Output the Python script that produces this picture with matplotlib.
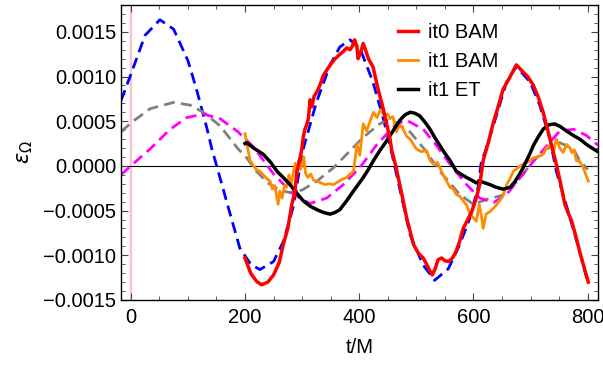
import numpy as np
import matplotlib.pyplot as plt

plt.rcParams["font.family"] = ["Liberation Sans", "DejaVu Sans"]
plt.rcParams["mathtext.fontset"] = "dejavusans"

# values in units of 1e-4
blue_t = [-17, 0, 25, 51, 75, 100, 115, 133, 142, 150, 175, 191, 210, 226, 250, 267, 284, 299,
          302, 325, 349, 366, 384, 401, 424, 442, 454, 462, 489, 512, 532, 556, 576, 594, 608,
          614, 620, 640, 658, 675, 699, 716, 734, 745, 769, 786, 801]
blue_e = [7.3, 10.2, 14.6, 16.35, 15.3, 11.8, 8.6, 4.3, 1.9, 0.1, -5.6, -9.2, -11.0, -11.6, -10.7,
          -8.5, -4.7, 0.9, 1.9, 7.1, 11.3, 13.3, 14.1, 13.2, 9.4, 5.3, 2.3, 0.0, -7.7, -11.1, -12.8,
          -11.5, -8.8, -5.8, -2.4, 0.6, 1.5, 5.6, 9.4, 11.1, 9.4, 6.8, 3.0, -0.6, -5.8, -9.6, -13.2]

gray_t = [-17, 2, 34, 75, 104, 127, 156, 188, 203, 220, 240, 260, 280, 300, 326, 355, 378, 407,
          436, 448, 460, 489, 515, 541, 576, 600, 625, 650, 680, 705, 728, 751, 775, 786, 800]
gray_e = [3.8, 4.9, 6.4, 7.1, 6.8, 6.0, 4.5, 1.9, 0.9, -0.6, -1.9, -2.7, -3.0, -2.7, -1.7,
          -0.2, 1.3, 3.2, 4.7, 5.1, 5.0, 3.8, 1.8, -0.6, -3.2, -4.3, -3.7, -3.3, -1.5, 0.6, 1.9,
          2.6, 1.9, 0.6, -0.4]

mag_t = [-17, 0, 34, 69, 98, 127, 156, 188, 215, 250, 285, 314, 343, 372, 401, 431, 465, 483,
         512, 535, 559, 588, 611, 635, 658, 687, 710, 751, 775, 798, 818]
mag_e = [-1.0, 0.0, 1.9, 4.1, 5.4, 5.8, 5.3, 3.8, 2.1, -0.9, -3.2, -4.2, -3.6, -2.1, -0.2, 2.4,
         4.7, 5.1, 4.1, 2.3, 0.2, -2.1, -3.6, -4.1, -3.2, -0.9, 0.9, 3.9, 4.1, 3.4, 2.3]

red_t = [200, 210, 220, 229, 240, 250, 260, 267, 275, 282, 287, 291, 296, 299, 302, 305, 308,
         311, 314, 317, 321, 326, 331, 337, 345, 355, 363, 372, 378, 384, 388, 392, 396, 398,
         402, 407, 412, 416, 424, 433, 442, 454, 457, 464, 474, 483, 495, 504, 512, 518, 524,
         528, 533, 538, 544, 550, 556, 562, 568, 575, 582, 590, 597, 604, 611, 617, 626, 635,
         644, 652, 661, 670, 675, 681, 687, 695, 705, 714, 722, 734, 745, 752, 760, 766, 772,
         779, 786, 793, 801]
red_e = [-10.3, -12.0, -12.9, -13.3, -13.0, -12.2, -10.8, -8.8, -7.0, -4.3, -3.0, -0.6, 0.8,
         1.7, 3.2, 4.1, 4.6, 5.3, 7.4, 6.6, 7.8, 8.3, 9.0, 10.1, 10.9, 11.8, 12.3, 12.8, 13.2,
         13.0, 13.4, 14.1, 13.3, 12.0, 12.6, 13.7, 12.8, 12.0, 11.1, 8.6, 6.4, 3.0, 1.7, 0.0,
         -3.0, -5.8, -8.8, -9.8, -10.3, -11.0, -11.8, -12.2, -11.5, -10.5, -10.3, -10.6, -10.7,
         -10.4, -9.8, -8.6, -7.0, -6.0, -5.1, -3.8, -2.1, 0.6, 2.6, 4.9, 6.8, 8.6, 9.6, 10.7,
         11.3, 10.9, 10.5, 10.0, 9.0, 7.6, 6.0, 3.0, 0.2, -1.8, -4.3, -5.3, -6.2, -7.8, -9.6,
         -11.2, -13.0]

orange_t = [200, 204, 209, 215, 220, 226, 232, 238, 244, 248, 252, 255, 258, 261, 265, 269,
            273, 277, 281, 285, 288, 291, 294, 297, 300, 303, 306, 310, 315, 320, 326, 333,
            340, 348, 355, 362, 370, 378, 384, 390, 396, 401, 407, 413, 419, 425, 431, 437,
            444, 450, 454, 459, 465, 471, 477, 483, 489, 495, 500, 508, 518, 524, 530, 537,
            544, 551, 559, 565, 570, 576, 582, 588, 594, 600, 605, 610, 614, 617, 622, 629,
            637, 646, 652, 658, 664, 670, 678, 687, 696, 705, 713, 722, 728, 734, 740, 745,
            751, 757, 763, 769, 772, 776, 780, 786, 792, 801]
orange_e = [3.6, 2.2, 0.6, 0.0, -0.4, -0.6, -1.0, -1.4, -1.7, -2.6, -2.2, -3.2, -4.3, -2.8,
            -3.6, -2.2, -2.4, -1.0, -2.0, -0.6, 0.3, -1.0, 0.6, -0.4, 0.2, 1.0, -0.8, -1.3,
            -0.9, -1.6, -1.7, -1.9, -2.1, -2.0, -2.1, -1.8, -1.5, -1.3, -0.9, -0.6, 2.4, 1.2,
            4.7, 3.9, 5.0, 6.0, 5.4, 6.3, 5.6, 5.8, 5.3, 5.5, 3.8, 4.6, 4.1, 3.3, 3.0, 2.4,
            1.9, 1.6, 1.7, 0.6, 0.2, 0.4, -0.6, -1.5, -2.4, -2.6, -3.2, -3.4, -3.9, -4.4, -5.4,
            -5.8, -6.2, -4.3, -5.6, -7.0, -5.4, -5.1, -4.6, -3.9, -3.3, -2.1, -1.4, -0.6, -0.2,
            0.2, 0.5, 0.9, 1.0, 1.3, 2.0, 2.3, 1.5, 3.0, 2.0, 1.5, 2.4, 2.0, 1.5, 1.8, 0.6,
            0.5, -0.2, -1.7]

black_t = [200, 203, 215, 232, 245, 256, 267, 279, 290, 302, 314, 326, 337, 349, 358, 366,
           378, 390, 398, 407, 416, 425, 436, 448, 460, 471, 480, 489, 497, 506, 515, 524,
           532, 541, 550, 559, 570, 580, 588, 597, 605, 611, 620, 629, 640, 652, 664, 672,
           681, 687, 693, 699, 705, 713, 722, 732, 742, 752, 763, 775, 786, 800, 815, 818]
black_e = [2.5, 2.6, 2.0, 1.3, 0.4, -0.6, -1.3, -2.1, -3.0, -3.9, -4.5, -4.9, -5.2, -5.4,
           -5.2, -4.9, -3.9, -2.8, -2.1, -1.3, -0.4, 0.6, 1.7, 2.8, 4.0, 5.1, 5.7, 6.0, 5.9,
           5.6, 4.9, 4.1, 3.2, 2.3, 1.4, 0.6, -0.6, -1.0, -1.3, -1.6, -1.9, -1.7, -1.9, -2.1,
           -2.4, -2.6, -2.4, -1.8, -0.9, -0.2, 0.6, 1.4, 2.3, 3.2, 4.1, 4.6, 4.7, 4.4, 3.9,
           3.4, 3.0, 2.3, 1.7, 1.6]

fig = plt.figure(figsize=(6.03, 3.67), dpi=100)
ax = fig.add_axes([0.2007, 0.1826, 0.791, 0.8038])

s = 1e-4
ax.axvline(0, color="#ffc0cb", lw=1.6, zorder=1)
ax.axhline(0, color="black", lw=0.8, zorder=1)
ax.plot(blue_t, np.array(blue_e) * s, color="blue", lw=2, ls=(0, (4, 2.2)), zorder=2)
ax.plot(gray_t, np.array(gray_e) * s, color="gray", lw=2, ls=(0, (4, 2.2)), zorder=2)
ax.plot(mag_t, np.array(mag_e) * s, color="magenta", lw=2, ls=(0, (4, 2.2)), zorder=2)
ax.plot(orange_t, np.array(orange_e) * s, color="#ff8c00", lw=2, zorder=3, label="it1 BAM")
ax.plot(black_t, np.array(black_e) * s, color="black", lw=2.5, zorder=4, label="it1 ET")
ax.plot(red_t, np.array(red_e) * s, color="red", lw=2.5, zorder=5, label="it0 BAM")

ax.set_xlim(-17, 818)
ax.set_ylim(-0.0015, 0.0018)
ax.set_xticks([0, 200, 400, 600, 800])
ax.set_xticks(np.arange(0, 801, 50), minor=True)
ax.set_yticks([-0.0015, -0.0010, -0.0005, 0.0, 0.0005, 0.0010, 0.0015])
ax.set_yticklabels(["\u22120.0015", "\u22120.0010", "\u22120.0005", "0.0000",
                    "0.0005", "0.0010", "0.0015"])
ax.set_yticks(np.arange(-0.0015, 0.00181, 0.0001), minor=True)
ax.tick_params(which="both", direction="in", top=True, right=True, labelsize=14.5,
               color="#444444")
ax.tick_params(which="major", length=5, width=0.8)
ax.tick_params(which="minor", length=3, width=0.6)
ax.tick_params(axis="x", pad=6)
for sp in ax.spines.values():
    sp.set_linewidth(1.0)

ax.set_xlabel("t/M", fontsize=14.5, labelpad=8)
ax.set_ylabel(r"$\varepsilon_\Omega$", fontsize=15, labelpad=6)

h, l = ax.get_legend_handles_labels()
order = [2, 0, 1]
ax.legend([h[i] for i in order], [l[i] for i in order], loc="upper right",
          bbox_to_anchor=(0.83, 1.0), frameon=False, fontsize=14.5, handlelength=1.0,
          handletextpad=0.5, labelspacing=0.5)

plt.savefig("out.png", dpi=100)
